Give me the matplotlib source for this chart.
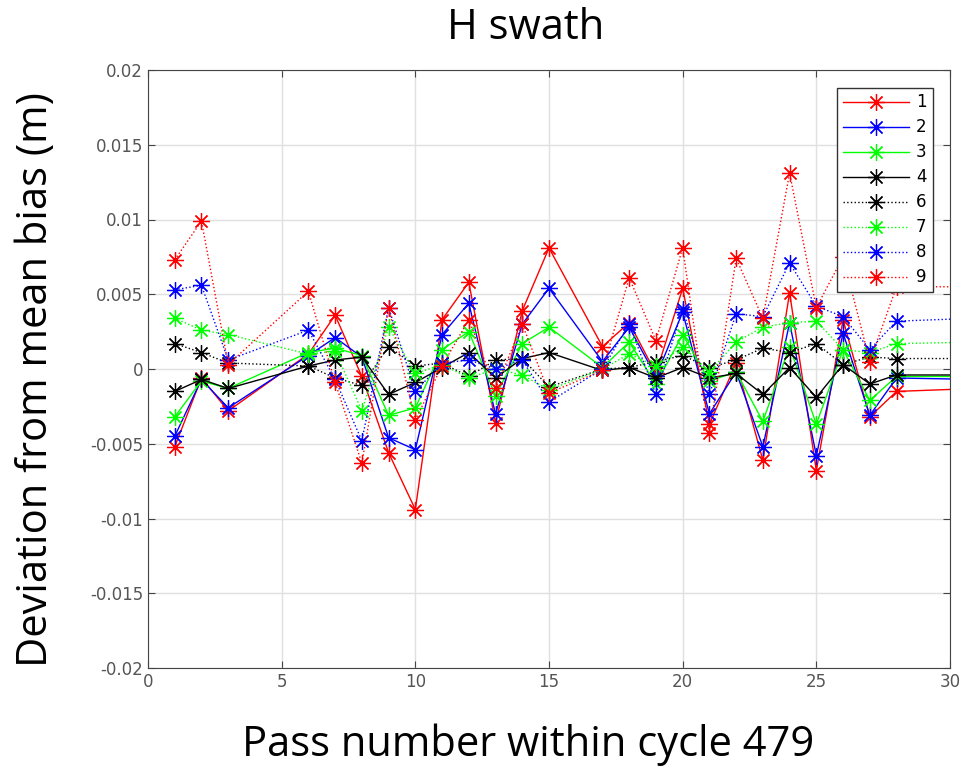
import matplotlib
matplotlib.use("Agg")
import matplotlib.pyplot as plt

# pass numbers (last point lies past the axis edge, as in the original)
passes = [1, 2, 3, 6, 7, 8, 9, 10, 11, 12, 13, 14, 15, 17, 18, 19, 20,
          21, 22, 23, 24, 25, 26, 27, 28, 31]

dev1 = [-0.0052, -0.0006, -0.0028, 0.0010, 0.0036, -0.0005, -0.0056, -0.0094, 0.0033, 0.0058,
        -0.0036, 0.0039, 0.0081, 0.0015, 0.0031, -0.0003, 0.0054, -0.0037, 0.0004, -0.0061,
        0.0051, -0.0068, 0.0033, -0.0032, -0.0015, -0.0013]
dev2 = [-0.0045, -0.0007, -0.0026, 0.0009, 0.0021, 0.0008, -0.0046, -0.0054, 0.0023, 0.0044,
        -0.0030, 0.0030, 0.0054, 0.0005, 0.0028, -0.0005, 0.0038, -0.0030, -0.0002, -0.0052,
        0.0031, -0.0058, 0.0024, -0.0031, -0.0006, -0.0007]
dev3 = [-0.0032, -0.0008, -0.0013, 0.0011, 0.0014, 0.0009, -0.0031, -0.0026, 0.0013, 0.0025,
        -0.0018, 0.0017, 0.0028, 0.0001, 0.0018, -0.0010, 0.0023, -0.0008, -0.0002, -0.0035,
        0.0015, -0.0037, 0.0013, -0.0021, -0.0005, -0.0005]
dev4 = [-0.0015, -0.0007, -0.0013, 0.0002, 0.0006, 0.0008, -0.0017, -0.0009, 0.0001, 0.0011,
        -0.0006, 0.0007, 0.0011, -0.0001, 0.0001, -0.0006, 0.0001, -0.0006, -0.0003, -0.0017,
        0.0001, -0.0019, 0.0003, -0.0010, -0.0004, -0.0004]
dev6 = [0.0017, 0.0011, 0.0004, 0.0002, -0.0006, -0.0011, 0.0015, 0.0002, 0.0004, -0.0005,
        0.0006, 0.0007, -0.0012, 0.0000, 0.0001, 0.0005, 0.0009, 0.0001, 0.0006, 0.0014,
        0.0011, 0.0017, 0.0003, 0.0008, 0.0007, 0.0007]
dev7 = [0.0034, 0.0026, 0.0023, 0.0010, 0.0012, -0.0028, 0.0028, -0.0003, 0.0003, -0.0006,
        0.0000, -0.0004, -0.0014, 0.0000, 0.0010, 0.0002, 0.0015, -0.0002, 0.0018, 0.0028,
        0.0031, 0.0032, 0.0013, 0.0011, 0.0017, 0.0018]
dev8 = [0.0053, 0.0056, 0.0006, 0.0026, -0.0007, -0.0048, 0.0041, -0.0015, 0.0004, 0.0006,
        0.0000, 0.0006, -0.0022, 0.0000, 0.0030, -0.0017, 0.0040, -0.0017, 0.0037, 0.0035,
        0.0071, 0.0042, 0.0035, 0.0013, 0.0032, 0.0034]
dev9 = [0.0073, 0.0099, 0.0003, 0.0052, -0.0009, -0.0063, 0.0041, -0.0034, 0.0002, 0.0033,
        -0.0013, 0.0030, -0.0016, -0.0001, 0.0061, 0.0019, 0.0081, -0.0043, 0.0074, 0.0034,
        0.0131, 0.0041, 0.0075, 0.0005, 0.0055, 0.0055]

series = [
    ("1", dev1, "#ff0000", "-"),
    ("2", dev2, "#0000ff", "-"),
    ("3", dev3, "#00ff00", "-"),
    ("4", dev4, "#000000", "-"),
    ("6", dev6, "#000000", ":"),
    ("7", dev7, "#00ff00", ":"),
    ("8", dev8, "#0000ff", ":"),
    ("9", dev9, "#ff0000", ":"),
]

fig = plt.figure(figsize=(9.65, 7.69), dpi=100)
ax = fig.add_axes([148 / 965, 101 / 769, 802 / 965, 598 / 769])

for name, vals, col, ls in series:
    ax.plot(passes, vals, linestyle=ls, color=col, linewidth=1.0,
            marker=(8, 2, 0), markersize=12, markeredgewidth=0.9, label=name)

ax.set_xlim(0, 30)
ax.set_ylim(-0.02, 0.02)
ax.set_xticks(range(0, 31, 5))
ax.set_yticks([-0.02, -0.015, -0.01, -0.005, 0, 0.005, 0.01, 0.015, 0.02])
ax.set_yticklabels(["-0.02", "-0.015", "-0.01", "-0.005", "0", "0.005", "0.01", "0.015", "0.02"])
ax.grid(True, color="#e0e0e0", linewidth=1.0)
ax.set_axisbelow(True)
ax.tick_params(direction="in", top=True, right=True, labelsize=12,
               labelcolor="#555555", color="#444444", length=5)
for sp in ax.spines.values():
    sp.set_color("#444444")

leg = ax.legend(loc="upper right", fontsize=12, handlelength=4.0, labelspacing=0.42,
                borderaxespad=1.05, fancybox=False, framealpha=1.0, edgecolor="#333333",
                borderpad=0.35, handletextpad=0.4)
leg.get_frame().set_linewidth(1.0)

fig.text(526 / 965, 1 - 28 / 769, "H swath", ha="center", va="center",
         fontsize=30, family="Open Sans")
fig.text(528 / 965, 1 - 745 / 769, "Pass number within cycle 479", ha="center", va="center",
         fontsize=30, family="Open Sans")
fig.text(36 / 965, 1 - 380 / 769, "Deviation from mean bias (m)", ha="center", va="center",
         rotation=90, fontsize=30, family="Open Sans")

plt.savefig("out.png", dpi=100)
